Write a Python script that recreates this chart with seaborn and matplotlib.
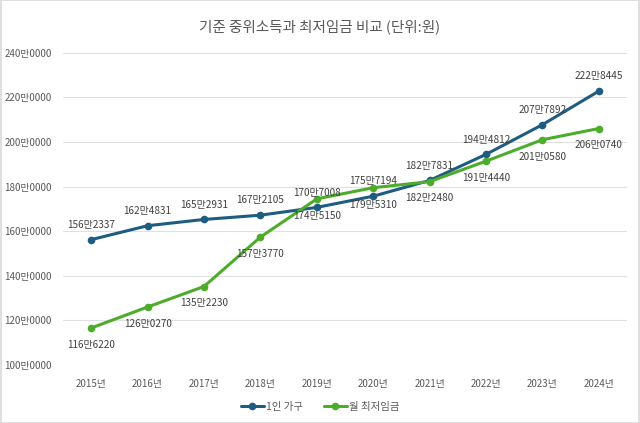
import matplotlib
matplotlib.use("Agg")
import matplotlib.pyplot as plt
import seaborn as sns
import pandas as pd
from matplotlib.patches import Rectangle

years = ["2015년", "2016년", "2017년", "2018년", "2019년", "2020년", "2021년", "2022년", "2023년", "2024년"]
single_household = [1562337, 1624831, 1652931, 1672105, 1707008, 1757194, 1827831, 1944812, 2077892, 2228445]
min_wage = [1166220, 1260270, 1352230, 1573770, 1745150, 1795310, 1822480, 1914440, 2010580, 2060740]
series_names = ["1인 가구", "월 최저임금"]
yticks = [1000000, 1200000, 1400000, 1600000, 1800000, 2000000, 2200000, 2400000]

sns.set_theme(style="white")
plt.rcParams['font.family'] = ['Noto Sans CJK KR', 'DejaVu Sans']

df = pd.DataFrame({
    "year": years * 2,
    "value": single_household + min_wage,
    "series": [series_names[0]] * len(years) + [series_names[1]] * len(years),
})

colors = {series_names[0]: "#1F5C82", series_names[1]: "#4EAC2C"}

fig = plt.figure(figsize=(6.4, 4.23), dpi=100)
ax = fig.add_axes([0.0984, 0.137, 0.8813, 0.738])

sns.lineplot(data=df, x="year", y="value", hue="series", palette=colors,
             marker="o", markersize=5.5, markeredgewidth=0, linewidth=2.2,
             sort=False, ax=ax, legend=True)

def fmt(v):
    return f"{int(v)//10000}만{int(v)%10000:04d}"

for i, v in enumerate(single_household):
    ax.annotate(fmt(v), (i, v), xytext=(0, 7), textcoords="offset points",
                ha="center", va="bottom", fontsize=7.2, color="#404040")
for i, v in enumerate(min_wage):
    ax.annotate(fmt(v), (i, v), xytext=(0, -8.5), textcoords="offset points",
                ha="center", va="top", fontsize=7.2, color="#404040")

ax.set_xlim(-0.5, len(years) - 0.5)
ax.set_ylim(1000000, 2400000)
ax.set_yticks(yticks)
ax.set_yticklabels([fmt(t) for t in yticks])
ax.yaxis.grid(True, color="#E0E0E0", linewidth=0.8)
ax.xaxis.grid(False)
for s in ax.spines.values():
    s.set_visible(False)
ax.tick_params(axis="both", length=0, labelsize=7, labelcolor="#595959")
ax.tick_params(axis="x", pad=10)
ax.tick_params(axis="y", pad=8)
ax.set_xlabel("")
ax.set_ylabel("")

fig.text(0.5, 0.936, "기준 중위소득과 최저임금 비교 (단위:원)", ha="center", va="center",
         fontsize=10.5, color="#595959")

handles, labels = ax.get_legend_handles_labels()
ax.get_legend().remove()
fig.legend(handles, labels, loc="center", bbox_to_anchor=(0.5, 0.038), ncol=2,
           frameon=False, fontsize=7.5, labelcolor="#595959", handlelength=2.2,
           columnspacing=2.0, handletextpad=0.2)

fig.patches.append(Rectangle((0.001, 0.001), 0.998, 0.998, transform=fig.transFigure,
                             fill=False, edgecolor="#D9D9D9", linewidth=1.2))

fig.savefig("out.png", dpi=100)
